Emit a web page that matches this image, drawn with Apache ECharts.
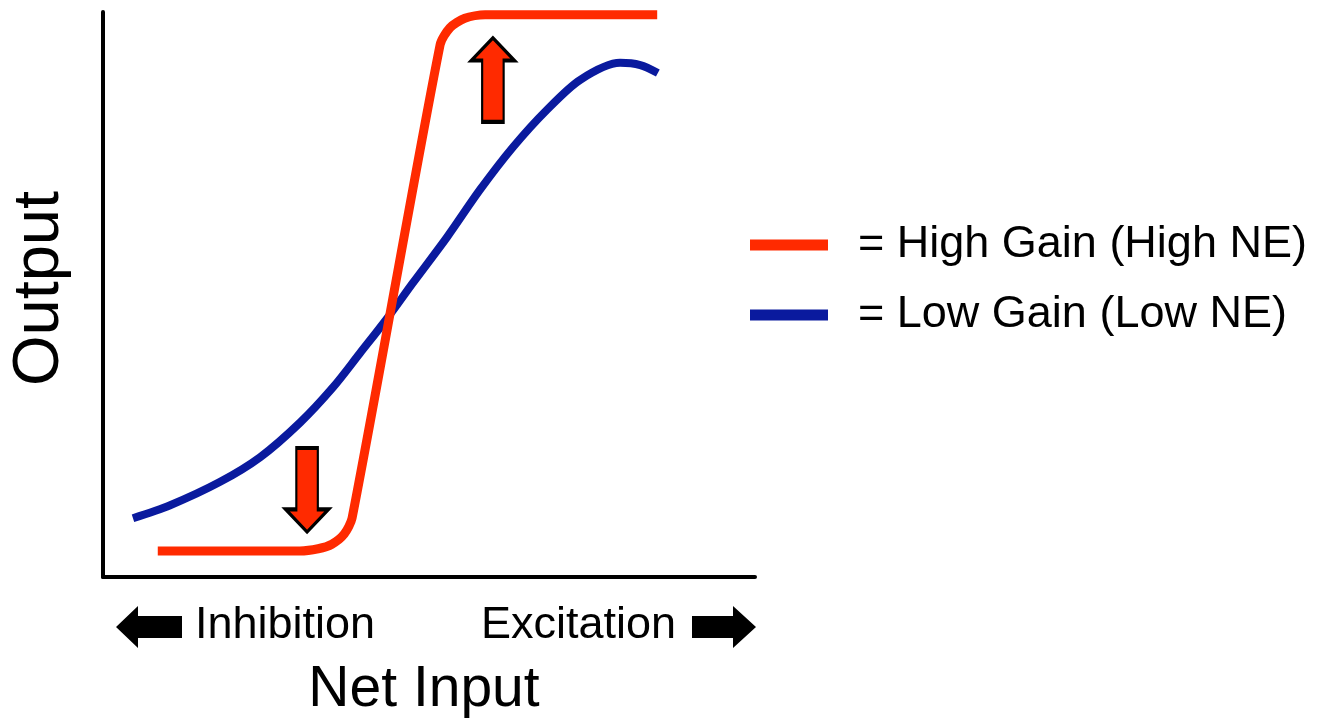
<!DOCTYPE html>
<html>
<head>
<meta charset="utf-8">
<script src="https://cdn.jsdelivr.net/npm/echarts@6/dist/echarts.min.js"></script>
<style>html,body{margin:0;padding:0;background:#fff;}#c{width:1334px;height:726px;}</style>
</head>
<body>
<div id="c"></div>
<script>
// Data (x: net input 0-100, y: output 0-100)
var highGainX = [8.4, 30.2, 33.0, 35.1, 37.0, 38.2, 51.7, 53.2, 55.5, 58.6, 85.0];
var highGainY = [4.6, 4.6, 5.0, 5.8, 7.6, 10.4, 94.2, 97.2, 98.9, 99.5, 99.5];
var lowGainX = [4.6, 10.3, 17.9, 24.1, 30.2, 35.3, 39.4, 43.6, 47.5, 52.8, 57.8, 62.9, 68.1, 73.2, 79.3, 82.4, 85.1];
var lowGainY = [10.4, 12.7, 16.8, 21.2, 27.3, 33.6, 39.6, 45.8, 52.0, 60.2, 68.5, 76.1, 82.7, 88.0, 91.0, 90.6, 89.2];
var seriesNames = ['= High Gain (High NE)', '= Low Gain (Low NE)'];
var arrowDownAt = [31.3, 15.4];
var arrowUpAt = [59.8, 88.0];
var axisNames = { x: 'Net Input', y: 'Output' };
var directionLabels = ['Inhibition', 'Excitation'];

function zip(xs, ys) { return xs.map(function (x, i) { return [x, ys[i]]; }); }

var RED = '#ff2a00', BLUE = '#0a1a9e';
var FONT = '"Liberation Sans", Arial, Helvetica, sans-serif';
var downPath = 'path://M25,0L75,0L75,73L100,73L50,100L0,73L25,73Z';
var upPath = 'path://M50,0L100,27L75,27L75,100L25,100L25,27L0,27Z';

var chart = echarts.init(document.getElementById('c'), null, { renderer: 'canvas' });
chart.setOption({
  backgroundColor: '#ffffff',
  animation: false,
  grid: { left: 103, top: 12, width: 652, height: 565, containLabel: false },
  xAxis: {
    type: 'value', min: 0, max: 100,
    axisLine: { show: true, lineStyle: { color: '#000', width: 4 } },
    axisTick: { show: false }, axisLabel: { show: false }, splitLine: { show: false },
    name: axisNames.x, nameLocation: 'middle', nameGap: 85,
    nameTextStyle: { fontFamily: FONT, fontSize: 57, color: '#000', padding: [0, 10, 0, 0] }
  },
  yAxis: {
    type: 'value', min: 0, max: 100,
    axisLine: { show: true, lineStyle: { color: '#000', width: 4 } },
    axisTick: { show: false }, axisLabel: { show: false }, splitLine: { show: false },
    name: axisNames.y, nameLocation: 'middle', nameRotate: 90, nameGap: 30,
    nameTextStyle: { fontFamily: FONT, fontSize: 65, color: '#000', padding: [0, 0, 0, 12] }
  },
  legend: {
    orient: 'vertical', left: 750, top: 222, padding: 0,
    itemWidth: 78, itemHeight: 11, itemGap: 24,
    icon: 'rect',
    textStyle: { fontFamily: FONT, fontSize: 45, color: '#000', lineHeight: 46, padding: [0, 0, 0, 25] },
    data: seriesNames
  },
  series: [
    {
      name: seriesNames[0], type: 'line', data: zip(highGainX, highGainY),
      showSymbol: false, symbol: 'none', smooth: 0.25,
      lineStyle: { color: RED, width: 9 }, itemStyle: { color: RED }, z: 3,
      markPoint: {
        symbolKeepAspect: false,
        itemStyle: { color: RED, borderColor: '#000', borderWidth: 3 },
        label: { show: false },
        data: [
          { coord: arrowDownAt, symbol: downPath, symbolSize: [43, 84] },
          { coord: arrowUpAt, symbol: upPath, symbolSize: [43, 84] }
        ]
      }
    },
    {
      name: seriesNames[1], type: 'line', data: zip(lowGainX, lowGainY),
      showSymbol: false, symbol: 'none', smooth: 0.3,
      lineStyle: { color: BLUE, width: 8 }, itemStyle: { color: BLUE }, z: 2
    }
  ],
  graphic: [
    { type: 'polygon', shape: { points: [[116, 627], [138, 606], [138, 616], [182, 616], [182, 638], [138, 638], [138, 648]] }, style: { fill: '#000' } },
    { type: 'polygon', shape: { points: [[756, 627], [733, 606], [733, 616], [692, 616], [692, 638], [733, 638], [733, 648]] }, style: { fill: '#000' } },
    { type: 'text', x: 195, y: 626, style: { text: directionLabels[0], font: '45px ' + FONT, fill: '#000', verticalAlign: 'middle', align: 'left' } },
    { type: 'text', x: 676, y: 626, style: { text: directionLabels[1], font: '45px ' + FONT, fill: '#000', verticalAlign: 'middle', align: 'right' } }
  ]
});
</script>
</body>
</html>
